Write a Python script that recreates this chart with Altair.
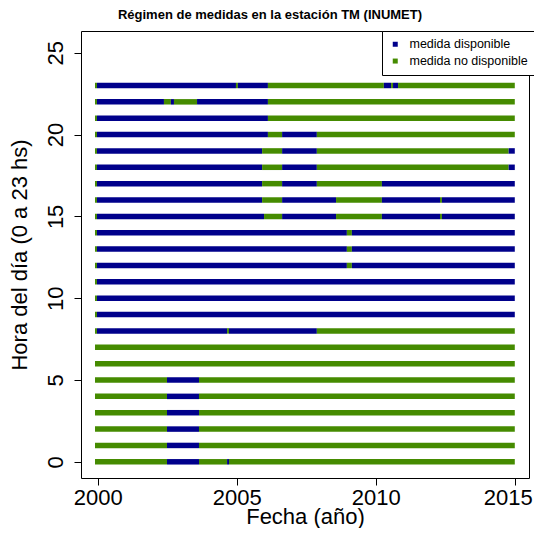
import altair as alt
import pandas as pd

# ---- data ----
states = ["medida disponible", "medida no disponible"]
colors = ["#00008B", "#458B00"]

x_ticks = [2000, 2005, 2010, 2015]
y_ticks = [0, 5, 10, 15, 20, 25]

hours = list(range(24))

# break points (years) of each hour's bar; first segment is "no disponible",
# then states alternate
b_00 = [1999.90, 2002.49, 2003.64, 2004.65, 2004.72, 2015.0]
b_01_05 = [1999.90, 2002.49, 2003.64, 2015.0]
b_06_07 = [1999.90, 2015.0]
b_08 = [1999.90, 1999.97, 2004.65, 2004.72, 2007.88, 2015.0]
b_09_11 = [1999.90, 1999.97, 2015.0]
b_12_14 = [1999.90, 1999.97, 2008.96, 2009.14, 2015.0]
b_15 = [1999.90, 1999.97, 2005.98, 2006.63, 2008.57, 2010.22, 2012.31, 2012.38, 2015.0]
b_16 = [1999.90, 1999.97, 2005.91, 2006.63, 2008.57, 2010.22, 2012.31, 2012.38, 2015.0]
b_17 = [1999.90, 1999.97, 2005.91, 2006.63, 2007.88, 2010.22, 2015.0]
b_18_19 = [1999.90, 1999.97, 2005.91, 2006.63, 2007.88, 2014.78, 2015.0]
b_20 = [1999.90, 1999.97, 2006.12, 2006.63, 2007.88, 2015.0]
b_21 = [1999.90, 1999.97, 2006.12, 2015.0]
b_22 = [1999.90, 1999.97, 2002.38, 2002.63, 2002.74, 2003.57, 2006.12, 2015.0]
b_23 = [1999.90, 1999.97, 2004.97, 2005.04, 2006.12, 2010.29, 2010.55, 2010.62, 2010.80, 2015.0]

breaks = [b_00, b_01_05, b_01_05, b_01_05, b_01_05, b_01_05, b_06_07, b_06_07,
          b_08, b_09_11, b_09_11, b_09_11, b_12_14, b_12_14, b_12_14, b_15,
          b_16, b_17, b_18_19, b_18_19, b_20, b_21, b_22, b_23]

rows = []
for h, b in zip(hours, breaks):
    for i in range(len(b) - 1):
        rows.append({"hour": h, "start": b[i], "end": b[i + 1],
                     "estado": states[1] if i % 2 == 0 else states[0]})
df = pd.DataFrame(rows)

FONT = "Liberation Sans"

chart = alt.Chart(df).mark_bar(height=5.5, orient="horizontal").encode(
    x=alt.X("start:Q",
            scale=alt.Scale(domain=[1999.396, 2015.511], nice=False, zero=False,
                            padding=0),
            axis=alt.Axis(values=x_ticks, format="d", title="Fecha (año)",
                          labelFontSize=22, labelPadding=2, labelFlush=False,
                          labelOverlap=False,
                          labelOffset={"condition": {"test": "datum.value == 2015",
                                                     "value": -7},
                                       "value": 0},
                          titleFontSize=22, titleY=45,
                          titleBaseline="alphabetic")),
    x2="end:Q",
    y=alt.Y("hour:Q",
            scale=alt.Scale(domain=[-0.99, 26.33], nice=False, zero=False,
                            padding=0),
            axis=alt.Axis(values=y_ticks, title="Hora del día (0 a 23 hs)",
                          labelAngle=270, labelAlign="center",
                          labelBaseline="alphabetic", labelPadding=12,
                          labelFontSize=22, labelOverlap=False,
                          titleFontSize=22, titleAngle=270, titleX=-55,
                          titleBaseline="alphabetic")),
    color=alt.Color("estado:N",
                    scale=alt.Scale(domain=states, range=colors),
                    legend=alt.Legend(orient="none", legendX=301, legendY=0,
                                      title=None, symbolType="square",
                                      symbolSize=25, symbolStrokeWidth=0,
                                      labelFontSize=12.5, labelFont=FONT,
                                      labelOffset=8, rowPadding=3.8,
                                      padding=7, strokeColor="black",
                                      fillColor="white", labelLimit=300,
                                      labelColor="black")),
).properties(
    width=448,
    height=447,
    padding={"left": 73, "top": 23, "right": 5, "bottom": 50},
    autosize="none",
    background="white",
    title=alt.TitleParams(text="Régimen de medidas en la estación TM (INUMET)",
                          fontSize=13, fontWeight="bold", font=FONT,
                          anchor="middle", dx=-35, offset=-1,
                          baseline="alphabetic", color="black"),
).configure_view(
    stroke="black", strokeWidth=1
).configure_axis(
    grid=False, domain=False, tickColor="black", tickSize=7, tickWidth=1,
    labelColor="black", titleColor="black", labelFont=FONT, titleFont=FONT,
    titleFontWeight="normal"
)

chart.save("out.html", embed_options={"renderer": "svg", "actions": False})
